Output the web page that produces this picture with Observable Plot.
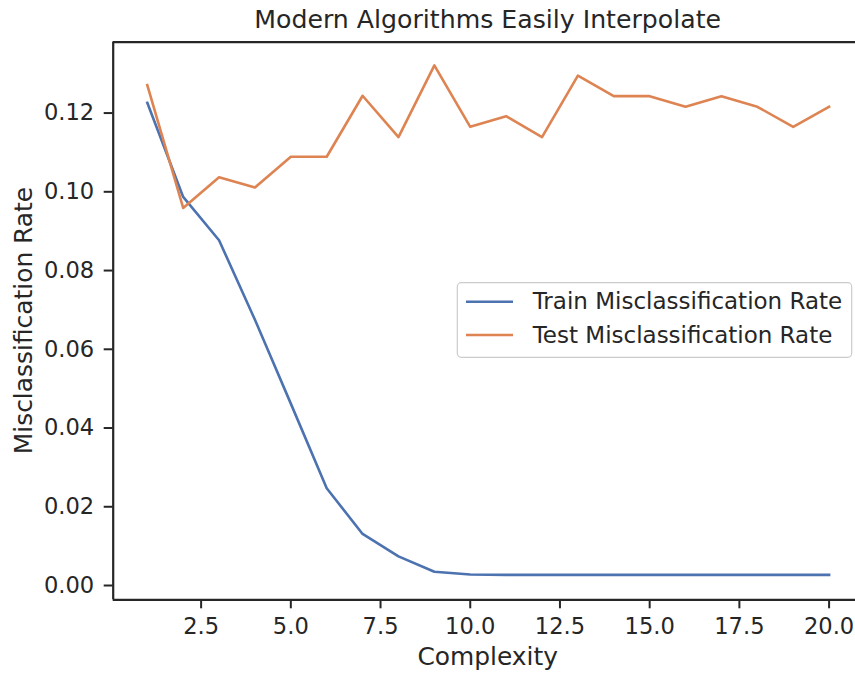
<!DOCTYPE html>
<html>
<head>
<meta charset="utf-8">
<script src="https://cdn.jsdelivr.net/npm/d3@7"></script>
<script src="https://cdn.jsdelivr.net/npm/@observablehq/plot@0.6"></script>
<style>
  body { margin: 0; background: #ffffff; }
  #chart svg { display: block; }
</style>
</head>
<body>
<div id="chart"></div>
<script>
// ---- data ----
const complexity = [1, 2, 3, 4, 5, 6, 7, 8, 9, 10, 11, 12, 13, 14, 15, 16, 17, 18, 19, 20];
const trainRate = [0.1226, 0.0987, 0.0877, 0.0675, 0.0462, 0.0247, 0.0131, 0.0074, 0.0035, 0.0028,
                   0.0027, 0.0027, 0.0027, 0.0027, 0.0027, 0.0027, 0.0027, 0.0027, 0.0027, 0.0027];
const testRate = [0.1271, 0.0959, 0.1037, 0.1011, 0.1089, 0.1089, 0.1244, 0.1139, 0.1321, 0.1165,
                  0.1192, 0.1139, 0.1295, 0.1243, 0.1243, 0.1216, 0.1243, 0.1216, 0.1165, 0.1216];
const seriesNames = ["Train Misclassification Rate", "Test Misclassification Rate"];
const seriesColors = ["#4c72b0", "#dd8452"];
const xTicks = [2.5, 5, 7.5, 10, 12.5, 15, 17.5, 20];
const yTicks = [0, 0.02, 0.04, 0.06, 0.08, 0.10, 0.12];
const titleText = "Modern Algorithms Easily Interpolate";
const xLabel = "Complexity";
const yLabel = "Misclassification Rate";

const rows = [
  ...complexity.map((c, i) => ({complexity: c, rate: trainRate[i], series: seriesNames[0]})),
  ...complexity.map((c, i) => ({complexity: c, rate: testRate[i], series: seriesNames[1]}))
];

const W = 855, H = 675;
const FONT = "DejaVu Sans";
const INK = "#262626";
const xDomain = [0.05, 20.736];   // axes extend beyond the canvas on the right
const xFull = [0.05, 20.95];
const yDomain = [-0.00363, 0.1380];

const plot = Plot.plot({
  width: W,
  height: H,
  marginLeft: 112.7,
  marginRight: 0,
  marginTop: 41.7,
  marginBottom: 75.7,
  style: {fontFamily: FONT, color: INK, background: "#ffffff", overflow: "visible"},
  x: {domain: xDomain, type: "linear"},
  y: {domain: yDomain, type: "linear"},
  color: {domain: seriesNames, range: seriesColors},
  marks: [
    Plot.axisX({ticks: xTicks, tickFormat: d3.format(".1f"), tickSize: 9, tickPadding: 9,
                fontSize: 22.6, stroke: INK, strokeWidth: 2, fill: INK, label: null}),
    Plot.axisY({ticks: yTicks, tickFormat: d3.format(".2f"), tickSize: 9, tickPadding: 10,
                fontSize: 22.6, stroke: INK, strokeWidth: 2, fill: INK, label: null}),
    Plot.line(rows, {x: "complexity", y: "rate", z: "series", stroke: "series",
                     strokeWidth: 2.6, strokeLinejoin: "round", strokeLinecap: "square"}),
    Plot.ruleX([xDomain[0]], {stroke: INK, strokeWidth: 2.2}),
    Plot.ruleY([yDomain[0]], {stroke: INK, strokeWidth: 2.2}),
    Plot.ruleY([yDomain[1]], {stroke: INK, strokeWidth: 2.2})
  ]
});

document.getElementById("chart").appendChild(plot);

// ---- titles, axis labels, legend ----
const svg = d3.select(plot);
const xs = plot.scale("x"), ys = plot.scale("y");
const cx = (xs.apply(xFull[0]) + xs.apply(xFull[1])) / 2;
const cy = (ys.apply(yDomain[0]) + ys.apply(yDomain[1])) / 2;

svg.append("text")
  .attr("x", cx).attr("y", 27.7)
  .attr("text-anchor", "middle")
  .attr("font-family", FONT).attr("font-size", 25.2).attr("fill", INK)
  .text(titleText);

svg.append("text")
  .attr("x", cx).attr("y", 665)
  .attr("text-anchor", "middle")
  .attr("font-family", FONT).attr("font-size", 24.9).attr("fill", INK)
  .text(xLabel);

svg.append("text")
  .attr("transform", `translate(31.7,${cy}) rotate(-90)`)
  .attr("text-anchor", "middle")
  .attr("font-family", FONT).attr("font-size", 24.9).attr("fill", INK)
  .text(yLabel);

const lg = svg.append("g");
lg.append("rect")
  .attr("x", 457.3).attr("y", 282.7).attr("width", 394.4).attr("height", 74.6)
  .attr("rx", 4).attr("fill", "#ffffff").attr("fill-opacity", 0.8)
  .attr("stroke", "#cccccc").attr("stroke-width", 1.2);
seriesNames.forEach((name, i) => {
  const y = 301.7 + i * 33.3;
  lg.append("line")
    .attr("x1", 466).attr("x2", 513).attr("y1", y).attr("y2", y)
    .attr("stroke", seriesColors[i]).attr("stroke-width", 2.6);
  lg.append("text")
    .attr("x", 532.7).attr("y", y + 7.6)
    .attr("text-anchor", "start")
    .attr("font-family", FONT).attr("font-size", 23).attr("fill", INK)
    .text(name);
});
</script>
</body>
</html>
